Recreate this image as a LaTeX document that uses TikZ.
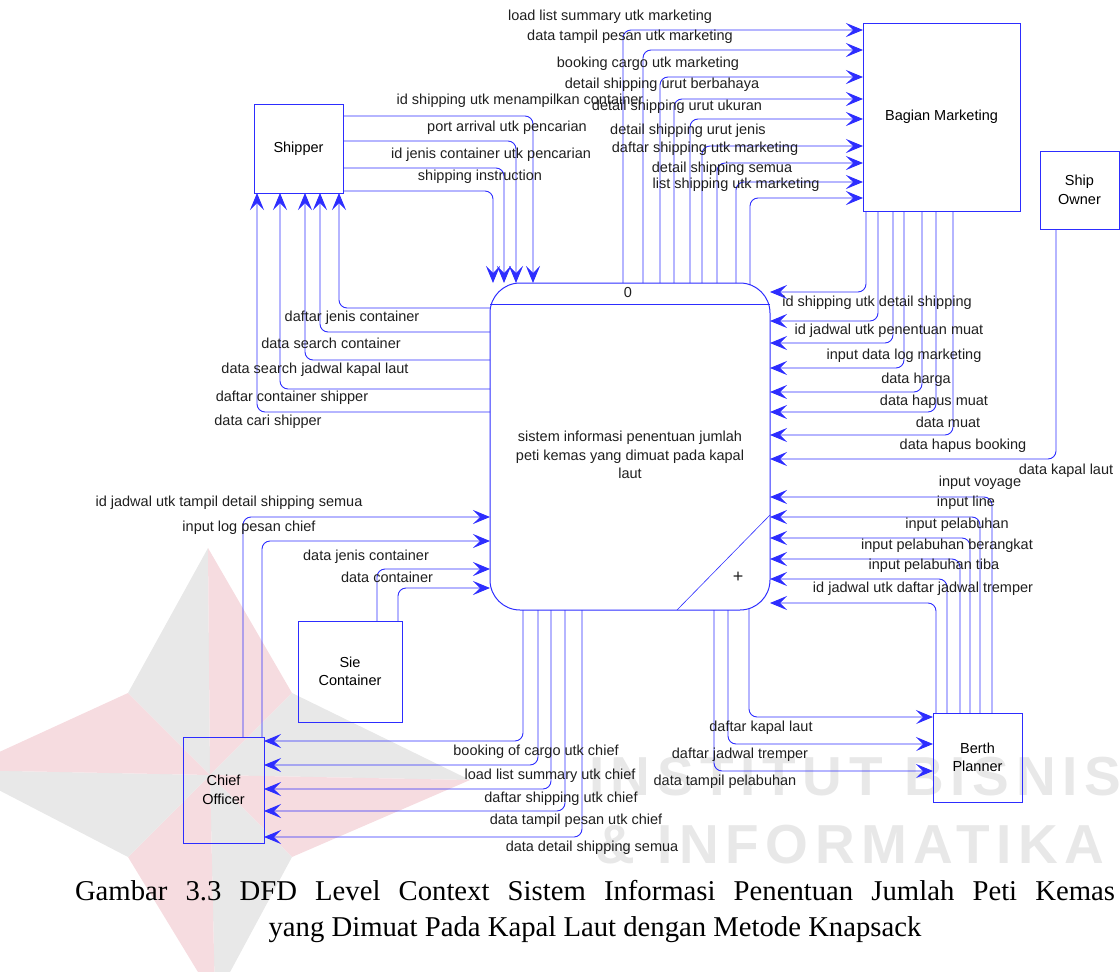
\documentclass[tikz,border=0pt]{standalone}
\usepackage{fontspec}
\setmainfont{Liberation Sans}
\newfontfamily\capfont{Liberation Serif}
\newfontfamily\wmfont[LetterSpace=12]{Liberation Sans Bold}
\usepackage{tikz}
\usetikzlibrary{arrows.meta}
\definecolor{dfdblue}{RGB}{45,45,255}
\definecolor{wmgray}{RGB}{232,232,232}
\definecolor{wmred}{RGB}{246,220,224}
\newcommand{\lblsize}{\fontsize{14.5}{18.5}\selectfont}

\tikzset{
  entity/.style={draw=dfdblue, line width=1pt, outer sep=0pt, inner sep=2pt, align=center, font=\lblsize},
  process/.style={draw=dfdblue, line width=1pt, outer sep=0pt, rounded corners=30pt},
  flow/.style={draw=dfdblue, line width=0.9pt, rounded corners=8pt, -{Stealth[length=17pt,width=14pt,inset=7pt]}},
  lbl/.style={font=\lblsize, inner sep=0pt, text=black!88},
  wm/.style={font=\wmfont\fontsize{55}{60}\selectfont, text=wmgray, inner sep=0pt}
}

\begin{document}
\begin{tikzpicture}[x=1pt, y=-1pt]
        \useasboundingbox (0,0) rectangle (1120,972);

        %Watermark logo
        \coordinate (lc) at (210,775);
        \fill [wmgray] (lc) -- (208,548) -- (128,693) -- cycle;
        \fill [wmred]  (lc) -- (208,548) -- (292,693) -- cycle;
        \fill [wmgray] (lc) -- (470,780) -- (292,693) -- cycle;
        \fill [wmred]  (lc) -- (470,780) -- (292,857) -- cycle;
        \fill [wmgray] (lc) -- (215,1000) -- (292,857) -- cycle;
        \fill [wmred]  (lc) -- (215,1000) -- (128,857) -- cycle;
        \fill [wmgray] (lc) -- (-40,770) -- (128,857) -- cycle;
        \fill [wmred]  (lc) -- (-40,770) -- (128,693) -- cycle;
        %Watermark text
        \node [wm] (wmA) at (855,777) {INSTITUT BISNIS};
        \node [wm] (wmB) at (850,845) {\& INFORMATIKA};

        %Entities
        \node [entity, fill=white, minimum width=89pt, minimum height=89pt]  (shipper) at (298.5,148.5) {Shipper};
        \node [entity, minimum width=157pt, minimum height=188pt] (mkt) at (941.5,117) {Bagian Marketing};
        \node [entity, minimum width=79pt, minimum height=78pt] (owner) at (1079.5,190) {Ship\\Owner};
        \node [entity, minimum width=89pt, minimum height=89pt]  (berth) at (977.5,757.5) {Berth\\Planner};
        \node [entity, minimum width=81pt, minimum height=106pt] (chief) at (223.5,790) {Chief\\Officer};
        \node [entity, minimum width=104pt, minimum height=101pt] (sie) at (350,671.5) {Sie\\Container};

        %Process
        \node [process, minimum width=280pt, minimum height=327pt] (proc) at (630,446.5) {};
        \draw [dfdblue, line width=0.9pt] (proc.west |- 0,304) -- (proc.east |- 0,304);
        \draw [dfdblue, line width=0.6pt] (proc.east |- 0,515) -- (proc.south -| 677,0);
        \node [lbl] (procid) at (628,293) {0};
        \node [lbl] (plus) at (738,577) {\fontsize{18}{18}\selectfont +};
        \node [lbl, align=center] (proctxt) at (630,455) {sistem informasi penentuan jumlah\\peti kemas yang dimuat pada kapal\\laut};

        %Shipper -> process
        \draw [flow] (shipper.east |- 0,116) -| (proc.north -| 533,0);
        \draw [flow] (shipper.east |- 0,141) -| (proc.north -| 516,0);
        \draw [flow] (shipper.east |- 0,168) -| (proc.north -| 504,0);
        \draw [flow] (shipper.east |- 0,191) -| (proc.north -| 493,0);
        \node [lbl] (fShipA) at (520,101) {id shipping utk menampilkan container};
        \node [lbl] (fShipB) at (507,128) {port arrival utk pencarian};
        \node [lbl] (fShipC) at (491,155) {id jenis container utk pencarian};
        \node [lbl] (fShipD) at (480,177) {shipping instruction};

        %Process -> shipper
        \draw [flow] (proc.west |- 0,308) -| (shipper.south -| 339,0);
        \draw [flow] (proc.west |- 0,332) -| (shipper.south -| 320,0);
        \draw [flow] (proc.west |- 0,360) -| (shipper.south -| 305,0);
        \draw [flow] (proc.west |- 0,389) -| (shipper.south -| 280,0);
        \draw [flow] (proc.west |- 0,412) -| (shipper.south -| 257,0);
        \node [lbl] (tShipA) at (352,318) {daftar jenis container};
        \node [lbl] (tShipB) at (331,343) {data search container};
        \node [lbl] (tShipC) at (315,370) {data search jadwal kapal laut};
        \node [lbl] (tShipD) at (292,398) {daftar container shipper};
        \node [lbl] (tShipE) at (268,422) {data cari shipper};

        %Process -> marketing
        \draw [flow] (proc.north -| 623,0) |- (mkt.west |- 0,30);
        \draw [flow] (proc.north -| 643,0) |- (mkt.west |- 0,50);
        \draw [flow] (proc.north -| 660,0) |- (mkt.west |- 0,77);
        \draw [flow] (proc.north -| 674,0) |- (mkt.west |- 0,99);
        \draw [flow] (proc.north -| 690,0) |- (mkt.west |- 0,119);
        \draw [flow] (proc.north -| 702,0) |- (mkt.west |- 0,146);
        \draw [flow] (proc.north -| 717,0) |- (mkt.west |- 0,163);
        \draw [flow] (proc.north -| 736,0) |- (mkt.west |- 0,182);
        \draw [flow] (750,285) |- (mkt.west |- 0,198);
        \node [lbl] (tMktA) at (610,17) {load list summary utk marketing};
        \node [lbl] (tMktB) at (630,37) {data tampil pesan utk marketing};
        \node [lbl] (tMktC) at (648,64) {booking cargo utk marketing};
        \node [lbl] (tMktD) at (662,85) {detail shipping urut berbahaya};
        \node [lbl] (tMktE) at (677,107) {detail shipping urut ukuran};
        \node [lbl] (tMktF) at (688,131) {detail shipping urut jenis};
        \node [lbl] (tMktG) at (705,149) {daftar shipping utk marketing};
        \node [lbl] (tMktH) at (722,169) {detail shipping semua};
        \node [lbl] (tMktI) at (736,185) {list shipping utk marketing};

        %Marketing -> process
        \draw [flow] (mkt.south -| 866,0) |- (proc.east |- 0,292);
        \draw [flow] (mkt.south -| 878,0) |- (proc.east |- 0,321);
        \draw [flow] (mkt.south -| 893,0) |- (proc.east |- 0,343);
        \draw [flow] (mkt.south -| 904,0) |- (proc.east |- 0,368);
        \draw [flow] (mkt.south -| 922,0) |- (proc.east |- 0,392);
        \draw [flow] (mkt.south -| 936,0) |- (proc.east |- 0,412);
        \draw [flow] (mkt.south -| 953,0) |- (proc.east |- 0,435);
        \node [lbl] (fMktA) at (877,303) {id shipping utk detail shipping};
        \node [lbl] (fMktB) at (889,331) {id jadwal utk penentuan muat};
        \node [lbl] (fMktC) at (904,356) {input data log marketing};
        \node [lbl] (fMktD) at (916,380) {data harga};
        \node [lbl] (fMktE) at (934,402) {data hapus muat};
        \node [lbl] (fMktF) at (948,422) {data muat};
        \node [lbl] (fMktG) at (963,446) {data hapus booking};

        %Ship owner -> process
        \draw [flow] (owner.south -| 1056,0) |- (proc.east |- 0,459);
        \node [lbl] (fOwner) at (1066,471) {data kapal laut};

        %Berth planner -> process
        \draw [flow] (berth.north -| 992,0) |- (proc.east |- 0,497);
        \draw [flow] (berth.north -| 980,0) |- (proc.east |- 0,517);
        \draw [flow] (berth.north -| 970,0) |- (proc.east |- 0,538);
        \draw [flow] (berth.north -| 960,0) |- (proc.east |- 0,559);
        \draw [flow] (berth.north -| 947,0) |- (proc.east |- 0,579);
        \draw [flow] (berth.north -| 936,0) |- (proc.east |- 0,603);
        \node [lbl] (fBerthA) at (980,483) {input voyage};
        \node [lbl] (fBerthB) at (966,503) {input line};
        \node [lbl] (fBerthC) at (957,525) {input pelabuhan};
        \node [lbl] (fBerthD) at (947,546) {input pelabuhan berangkat};
        \node [lbl] (fBerthE) at (934,566) {input pelabuhan tiba};
        \node [lbl] (fBerthF) at (923,589) {id jadwal utk daftar jadwal tremper};

        %Process -> berth planner
        \draw [flow] (749,608) |- (berth.west |- 0,717);
        \draw [flow] (proc.south -| 728,0) |- (berth.west |- 0,744);
        \draw [flow] (proc.south -| 714,0) |- (berth.west |- 0,771);
        \node [lbl] (tBerthA) at (761,728) {daftar kapal laut};
        \node [lbl] (tBerthB) at (740,755) {daftar jadwal tremper};
        \node [lbl] (tBerthC) at (725,782) {data tampil pelabuhan};

        %Process -> chief officer
        \draw [flow] (proc.south -| 523,0) |- (chief.east |- 0,741);
        \draw [flow] (proc.south -| 538,0) |- (chief.east |- 0,765);
        \draw [flow] (proc.south -| 551,0) |- (chief.east |- 0,789);
        \draw [flow] (proc.south -| 565,0) |- (chief.east |- 0,811);
        \draw [flow] (proc.south -| 582,0) |- (chief.east |- 0,837);
        \node [lbl] (tChiefA) at (536,752) {booking of cargo utk chief};
        \node [lbl] (tChiefB) at (550,776) {load list summary utk chief};
        \node [lbl] (tChiefC) at (561,799) {daftar shipping utk chief};
        \node [lbl] (tChiefD) at (576,821) {data tampil pesan utk chief};
        \node [lbl] (tChiefE) at (592,848) {data detail shipping semua};

        %Chief officer -> process
        \draw [flow] (chief.north -| 243,0) |- (proc.west |- 0,517);
        \draw [flow] (chief.north -| 262,0) |- (proc.west |- 0,541);
        \node [lbl] (fChiefA) at (229,503) {id jadwal utk tampil detail shipping semua};
        \node [lbl] (fChiefB) at (249,528) {input log pesan chief};

        %Sie container -> process
        \draw [flow] (sie.north -| 377,0) |- (proc.west |- 0,569);
        \draw [flow] (sie.north -| 398,0) |- (proc.west |- 0,588);
        \node [lbl] (fSieA) at (366,557) {data jenis container};
        \node [lbl] (fSieB) at (387,577) {data container};

        %Caption
        \node [font=\capfont\fontsize{28.7}{36}\selectfont, align=center, inner sep=0pt] (caption) at (595,911)
          {\makebox[1040pt][s]{Gambar 3.3 DFD Level Context Sistem Informasi Penentuan Jumlah Peti Kemas}\\yang Dimuat Pada Kapal Laut dengan Metode Knapsack};
\end{tikzpicture}
\end{document}
